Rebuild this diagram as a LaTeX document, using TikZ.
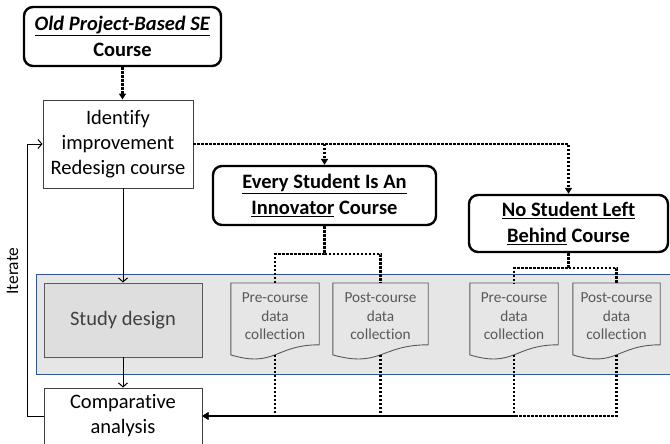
\documentclass[tikz,border=0pt]{standalone}
\usepackage{fontspec}
\setmainfont{Carlito}[Ligatures=NoCommon]
\usetikzlibrary{arrows.meta,calc}
\definecolor{bandfill}{RGB}{231,230,230}
\definecolor{bandblue}{RGB}{47,85,151}
\definecolor{sdfill}{RGB}{222,222,222}
\definecolor{boxgray}{RGB}{89,89,89}
\definecolor{txtgray}{RGB}{64,64,64}
\newcommand{\docpath}[1]{\draw[docshape] (#1.north west) -- (#1.north east) -- ($(#1.north east)+(0,61.8)$) .. controls ($(#1.north)+(0,61.8)$) and ($(#1.north)+(0,85.2)$) .. ($(#1.north west)+(0,71.9)$) -- cycle;}
\begin{document}
\begin{tikzpicture}[x=1pt,y=-1pt,
 bigtxt/.style={font=\fontsize{20.5}{25}\selectfont, align=center},
 roundbox/.style={align=center, draw=black, line width=2.4pt, rounded corners=9pt, inner sep=0pt, font=\fontsize{20.5}{26}\selectfont\bfseries},
 plainbox/.style={bigtxt, draw=txtgray, line width=0.9pt, inner sep=0pt},
 docnode/.style={inner sep=0pt, minimum height=66pt, align=center, text=boxgray, font=\fontsize{15.3}{18.7}\selectfont, anchor=north},
 dotline/.style={line width=2.4pt, dash pattern=on 2.4pt off 1.6pt},
 dotarrow/.style={dotline, -{Triangle[length=6pt,width=7pt]}},
 solidarrow/.style={line width=1pt, -{Straight Barb[length=4pt,width=9pt]}},
 docshape/.style={draw=boxgray, line width=0.9pt}
]
\useasboundingbox (0,0) rectangle (670,444);
% band
\node[draw=bandblue, fill=bandfill, line width=0.9pt, minimum width=636pt, minimum height=100pt, inner sep=0pt, anchor=north west] (band) at (36,274) {};
% top nodes
\node[roundbox, minimum width=197pt, minimum height=59pt] (old) at (122.5,36.5) {\underline{\textit{Old Project-Based SE}}\\Course};
\node[plainbox, minimum width=150pt, minimum height=88pt] (ident) at (118,144) {Identify\\improvement\\Redesign course};
\node[roundbox, minimum width=223pt, minimum height=59pt] (every) at (324.5,195.5) {\underline{Every Student Is An}\\\underline{Innovator} Course};
\node[roundbox, minimum width=199pt, minimum height=57pt] (nosl) at (568.5,223.5) {\underline{No Student Left}\\\underline{Behind} Course};
% study design
\node[plainbox, draw=boxgray, fill=sdfill, text=txtgray, minimum width=158pt, minimum height=74pt] (study) at (123,320) {Study design};
\node[plainbox, minimum width=158pt, minimum height=56pt] (comp) at (123,416) {Comparative\\analysis};
% documents
\node[docnode, minimum width=88pt] (d1) at (275,283) {Pre-course\\data\\collection};
\node[docnode, minimum width=95pt] (d2) at (380.5,283) {Post-course\\data\\collection};
\node[docnode, minimum width=88pt] (d3) at (514,283) {Pre-course\\data\\collection};
\node[docnode, minimum width=87pt] (d4) at (616.5,283) {Post-course\\data\\collection};
\docpath{d1}\docpath{d2}\docpath{d3}\docpath{d4}
\coordinate (d1b) at ($(d1.north)+(0,71.8)$);
\coordinate (d2b) at ($(d2.north)+(0,71.8)$);
\coordinate (d3b) at ($(d3.north)+(0,71.8)$);
\coordinate (d4b) at ($(d4.north)+(0,71.8)$);
% iterate label
\node[rotate=90, font=\fontsize{17.5}{21}\selectfont, inner sep=0pt] (iter) at (12.5,271) {Iterate};
% connectors
\draw[dotarrow] (old.south) -- (old.south |- ident.north);
\draw[dotarrow] (ident.east) -| (nosl.north);
\draw[dotarrow] (every.north |- ident.east) -- (every.north);
\draw[dotline] (every.south) -- ++(0,28) -| (d1.north);
\draw[dotline] (every.south) ++(0,28) -| (d2.north);
\draw[dotline] (nosl.south) -- ++(0,15) -| (d3.north);
\draw[dotline] (nosl.south) ++(0,15) -| (d4.north);
\draw[dotarrow] (d4b) |- (comp.east);
\draw[dotarrow] (d3b) |- (comp.east);
\draw[dotarrow] (d2b) |- (comp.east);
\draw[dotarrow] (d1b) |- (comp.east);
\draw[solidarrow] (study.north |- ident.south) -- (study.north);
\draw[solidarrow] (study.south) -- (comp.north);
\draw[solidarrow] (comp.west) -- ++(-16,0) |- (ident.west);
\end{tikzpicture}
\end{document}
